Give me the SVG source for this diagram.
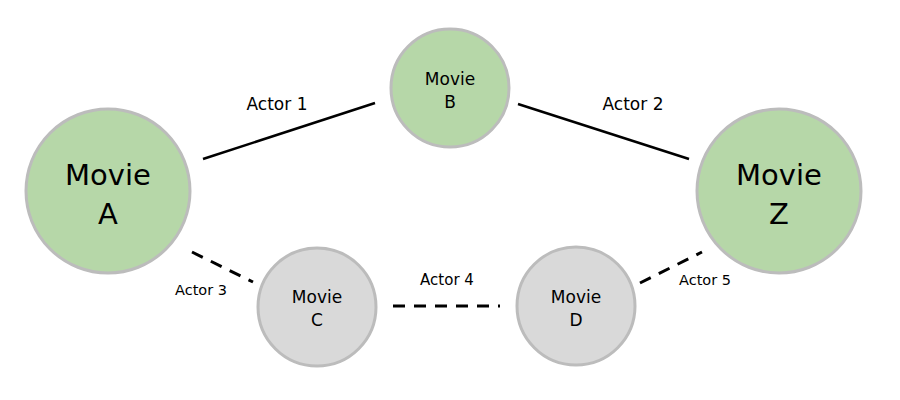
<svg xmlns="http://www.w3.org/2000/svg" width="900" height="400" viewBox="0 0 900 400">
<style>
text{font-family:"DejaVu Sans","Noto Sans",sans-serif;fill:#000;text-anchor:middle}
.big{font-size:29px}
.small{font-size:17px}
.lbl{font-size:14.5px}
.g{fill:#b6d7a8;stroke:#bcbcbc;stroke-width:3}
.n{fill:#d9d9d9;stroke:#bcbcbc;stroke-width:3}
.solid{stroke:#000;stroke-width:2.5;fill:none}
.dash{stroke:#000;stroke-width:3;fill:none;stroke-dasharray:12 9}
</style>
<rect width="900" height="400" fill="#fff"/>
<g id="connectors">
<line class="solid" x1="203" y1="159" x2="375" y2="103"/>
<line class="solid" x1="518" y1="104" x2="689" y2="159"/>
<line class="dash" x1="192" y1="252" x2="253" y2="282"/>
<line class="dash" x1="393" y1="306" x2="500" y2="306"/>
<line class="dash" x1="640" y1="283" x2="702" y2="252"/>
<text class="small" x="277" y="110">Actor 1</text>
<text class="small" x="633" y="110">Actor 2</text>
<text class="lbl" x="201" y="295">Actor 3</text>
<text class="lbl" x="447" y="285" style="font-size:15px">Actor 4</text>
<text class="lbl" x="705" y="285">Actor 5</text>
</g>
<g id="movieA">
<circle class="g" cx="108" cy="191" r="82"/>
<text class="big" x="108" y="185">Movie</text>
<text class="big" x="108" y="224">A</text>
</g>
<g id="movieB">
<circle class="g" cx="450" cy="88" r="59"/>
<text class="small" x="450" y="85">Movie</text>
<text class="small" x="450" y="108">B</text>
</g>
<g id="movieZ">
<circle class="g" cx="779" cy="191" r="82"/>
<text class="big" x="779" y="185">Movie</text>
<text class="big" x="779" y="224">Z</text>
</g>
<g id="movieC">
<circle class="n" cx="317" cy="307" r="59"/>
<text class="small" x="317" y="303">Movie</text>
<text class="small" x="317" y="326">C</text>
</g>
<g id="movieD">
<circle class="n" cx="576" cy="306" r="59"/>
<text class="small" x="576" y="303">Movie</text>
<text class="small" x="576" y="326">D</text>
</g>
</svg>
